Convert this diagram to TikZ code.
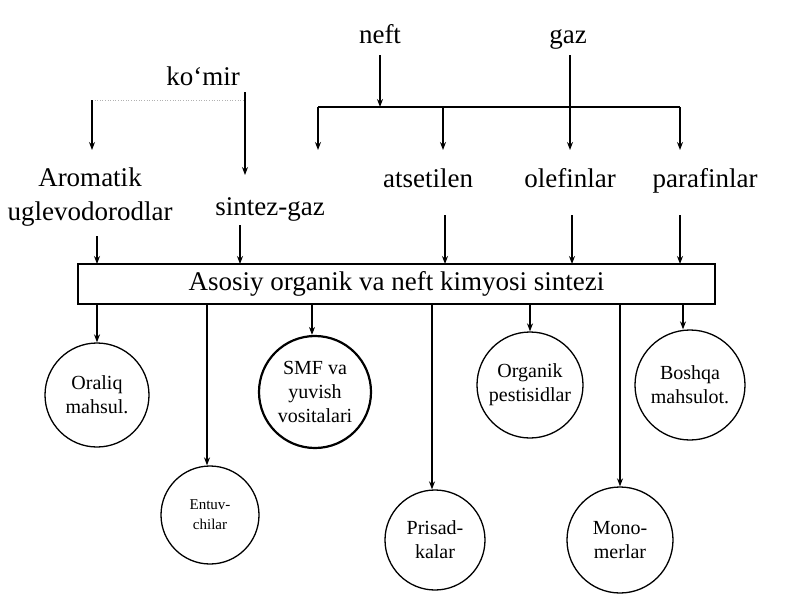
\documentclass[tikz,border=0pt]{standalone}
\usepackage{fontspec}
\setmainfont{Liberation Serif}
\usetikzlibrary{arrows.meta}
\begin{document}
\begin{tikzpicture}[x=1pt,y=-1pt,
  ar/.style={-{Stealth[length=8pt,width=6pt]},line width=1.2pt},
  ln/.style={line width=1.2pt},
  lbl/.style={font=\fontsize{27}{31}\selectfont,inner sep=1pt,anchor=base},
  circ/.style={circle,draw,line width=1.3pt,align=center,font=\fontsize{20}{24}\selectfont,inner sep=0pt},
  sm/.style={circ,font=\fontsize{15}{20}\selectfont}]
\useasboundingbox (0,0) rectangle (800,600);
\node[lbl] (neft) at (380,43) {neft};
\node[lbl] (gaz) at (568,43) {gaz};
\node[lbl] (komir) at (203,85) {ko‘mir};
\coordinate (nj) at (380,107);
\coordinate (gj) at (570,107);
\coordinate (hl) at (318,107);
\coordinate (hr) at (680,107);
\draw[ar] (380,55) -- (nj);
\draw[ln] (570,55) -- (gj);
\draw[ln] (hl) -- (hr);
\coordinate (kl) at (92,100);
\coordinate (kr) at (245,100);
\draw[line width=0.6pt,gray!60,dotted] (kl) -- (kr);
\draw[ln] (245,92) -- (kr);
\node[lbl] (arom) at (90,186) {Aromatik};
\node[lbl] (uglev) at (90,220) {uglevodorodlar};
\node[lbl] (sg) at (270,215) {sintez-gaz};
\node[lbl] (ats) at (428,187) {atsetilen};
\node[lbl] (ole) at (570,187) {olefinlar};
\node[lbl] (par) at (705,187) {parafinlar};
\draw[ar] (kl) -- (92,150);
\draw[ar] (kr) -- (245,175);
\draw[ar] (hl) -- (318,150);
\draw[ar] (443,107) -- (443,150);
\draw[ar] (gj) -- (570,150);
\draw[ar] (hr) -- (680,150);
\node[draw,ln,minimum width=637pt,minimum height=40pt,font=\fontsize{27}{31}\selectfont,inner sep=1pt] (box) at (396.5,284) {Asosiy organik va neft kimyosi sintezi};
\draw[ar] (97,236) -- (97,264);
\draw[ar] (240,225) -- (240,264);
\draw[ar] (445,215) -- (445,264);
\draw[ar] (572,215) -- (572,264);
\draw[ar] (680,215) -- (680,264);
\node[circ,minimum size=104pt] (c1) at (97,395) {Oraliq\\mahsul.};
\node[sm,minimum size=98pt] (c2) at (210,515) {Entuv-\\chilar};
\node[circ,minimum size=112pt,line width=2.2pt] (c3) at (315,392) {SMF va\\yuvish\\vositalari};
\node[circ,minimum size=100pt] (c4) at (435,540) {Prisad-\\kalar};
\node[circ,minimum size=106pt] (c5) at (530,385) {Organik\\pestisidlar};
\node[circ,minimum size=106pt] (c6) at (620,540) {Mono-\\merlar};
\node[circ,minimum size=110pt] (c7) at (690,385) {Boshqa\\mahsulot.};
\draw[ar] (97,304) -- (c1.north);
\draw[ar] (207,304) -- (c2.north -| 207,0);
\draw[ar] (312,304) -- (c3.north -| 312,0);
\draw[ar] (432,304) -- (c4.north -| 432,0);
\draw[ar] (530,304) -- (c5.north);
\draw[ar] (620,304) -- (c6.north);
\draw[ar] (683,304) -- (c7.north -| 683,0);
\end{tikzpicture}
\end{document}
